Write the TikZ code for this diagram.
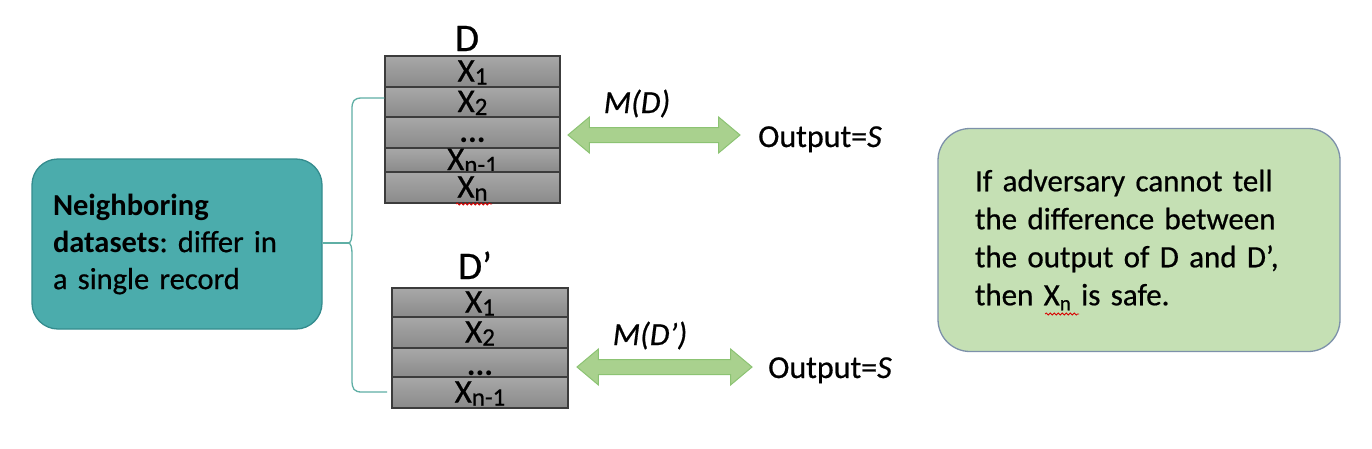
\documentclass[tikz,border=0pt]{standalone}
\usepackage{fontspec}
\setmainfont{Carlito}[UprightFeatures={FakeBold=0.6},ItalicFeatures={FakeBold=0.6}]
\usetikzlibrary{shapes.arrows,decorations.pathmorphing}
\definecolor{teal1}{RGB}{75,172,172}
\definecolor{teal2}{RGB}{52,140,142}
\definecolor{bracec}{RGB}{95,175,165}
\definecolor{rowtop}{RGB}{168,168,168}
\definecolor{rowbot}{RGB}{138,138,138}
\definecolor{rowline}{RGB}{60,60,60}
\definecolor{arrowfill}{RGB}{169,209,142}
\definecolor{arrowline}{RGB}{140,195,115}
\definecolor{notefill}{RGB}{197,224,180}
\definecolor{noteline}{RGB}{125,145,170}
\newcommand\fsz[2]{\fontsize{#1pt}{#2pt}\selectfont}
\newcommand\tsub[1]{\raisebox{-3pt}{\fsz{25}{25}#1}}
\frenchspacing
\begin{document}
\begin{tikzpicture}[x=1pt,y=-1pt,
  rowbox/.style={draw=rowline, line width=1.2pt, top color=rowtop, bottom color=rowbot,
     minimum width=175pt, inner sep=0pt, text height=20pt, text depth=0pt, font=\fsz{33}{33}},
  dblarrow/.style={double arrow, draw=arrowline, fill=arrowfill, line width=1pt,
     inner xsep=0pt, inner ysep=7pt, double arrow head extend=10.5pt, double arrow tip angle=80},
  lbl/.style={anchor=base, inner sep=0pt, font=\fsz{32}{32}},
  bracestyle/.style={draw=bracec, line width=1.3pt},
  squig/.style={draw=red!85!black, line width=0.8pt, decorate, decoration={snake, amplitude=1pt, segment length=4pt}}
]
\useasboundingbox (0,0) rectangle (1372,448);
\fill[white] (0,0) rectangle (1372,448);

% left box
\node[draw=teal2, fill=teal1, line width=1.3pt, rounded corners=26pt,
      minimum width=290pt, minimum height=170pt, text width=248pt, align=left,
      inner sep=0pt, font=\fsz{30.5}{37}] (nb) at (177,244)
  {\textbf{Neighboring}\\\textbf{datasets}: differ in\\a single record};

% table D
\node[lbl, font=\fsz{39}{39}] (Dl) at (467,51) {D};
\node[rowbox, minimum height=31pt] (d1) at (472.5,71.5) {X\tsub{1}};
\node[rowbox, minimum height=30pt] (d2) at (472.5,102) {X\tsub{2}};
\node[rowbox, minimum height=31pt] (d3) at (472.5,132.5) {\textbf{...}};
\node[rowbox, minimum height=24pt] (d4) at (472.5,160) {X\tsub{n-1}};
\node[rowbox, minimum height=31pt] (d5) at (472.5,187.5) {X\tsub{n}};

% table D'
\node[lbl, font=\fsz{39}{39}] (Dpl) at (475,279) {D’};
\node[rowbox, minimum height=29pt, minimum width=176pt] (e1) at (480,302.5) {X\tsub{1}};
\node[rowbox, minimum height=31pt, minimum width=176pt] (e2) at (480,332.5) {X\tsub{2}};
\node[rowbox, minimum height=29pt, minimum width=176pt, text height=26pt] (e3) at (480,362.5) {\textbf{...}};
\node[rowbox, minimum height=31pt, minimum width=176pt] (e4) at (480,392.5) {X\tsub{n-1}};

% squiggle under Xn
\draw[squig] (456,204) -- (492,204);

% brace
\coordinate (btop) at (d2.west |- 0,98);
\coordinate (bbot) at (387,392);
\coordinate (bmid) at (348,243);
\draw[bracestyle] (btop) -- (362,98) .. controls (354,98) and (352,101) .. (352,109)
  -- (352,231) .. controls (352,239) and (351,243) .. (bmid)
  .. controls (351,243) and (352,247) .. (352,255)
  -- (352,380) .. controls (352,389) and (354,392) .. (362,392) -- (bbot);
\draw[bracestyle] (nb.east |- bmid) -- (bmid);

% arrows
\node[dblarrow, minimum height=172pt] (a1) at (654,135) {};
\node[dblarrow, minimum height=175pt] (a2) at (664.5,367) {};
\node[lbl] (m1) at (637,113) {\itshape M(D)};
\node[lbl] (m2) at (650,345) {\itshape M(D’)};
\node[lbl, anchor=base west] (o1) at (758,147) {Output=\textit{S}};
\node[lbl, anchor=base west] (o2) at (768,378) {Output=\textit{S}};

% right note
\node[draw=noteline, fill=notefill, line width=1.3pt, rounded corners=32pt,
      minimum width=402pt, minimum height=223pt, text width=328pt, align=left,
      inner sep=0pt, font=\fsz{31}{38}] (note) at (1139,240)
  {If adversary cannot tell\\the difference between\\the output of D and D’,\\then X\raisebox{-5pt}{\fsz{21}{21}n} is safe.};
\draw[squig] (1045,314) -- (1079,314);
\end{tikzpicture}
\end{document}
